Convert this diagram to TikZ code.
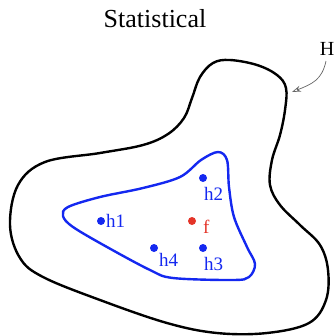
\documentclass[tikz,border=0pt]{standalone}
\usepackage{fontspec}
\setmainfont{Liberation Serif}
\usetikzlibrary{arrows.meta}
\definecolor{myblue}{RGB}{20,40,240}
\definecolor{myred}{RGB}{228,52,40}
\begin{document}
\begin{tikzpicture}[x=1pt,y=-1pt,
  outer/.style={line width=2.4pt,black},
  inner/.style={line width=2.4pt,myblue},
  bdot/.style={circle,fill=myblue,inner sep=0pt,minimum size=8pt},
  rdot/.style={circle,fill=myred,inner sep=0pt,minimum size=8pt},
  lab/.style={font=\fontsize{19}{20}\selectfont,inner sep=0pt,anchor=base west},
]
\useasboundingbox (0,0) rectangle (336,335);
\node[font=\fontsize{26}{28}\selectfont,inner sep=0pt] (title) at (155,19) {Statistical};
\draw[outer] plot[smooth cycle,tension=0.6] coordinates {
 (213,63) (230,60) (257,65) (277,75) (286,88) (285,110) (280,135) (272,160)
 (270,185) (280,205) (300,225) (320,245) (328,270) (326,300) (309,323)
 (267,333) (217,333) (167,323) (100,300) (43,277) (20,258) (10,225) (18,185)
 (45,162) (100,153) (143,145) (168,134) (184,118) (192,98) (200,77)};
\draw[inner] plot[smooth cycle,tension=0.55] coordinates {
 (218,152) (227,160) (229,187) (234,217) (247,247) (255,264) (249,277)
 (233,280) (173,278) (150,270) (107,247) (73,227) (63,216) (68,207)
 (100,197) (143,188) (180,177) (201,160)};
\node[bdot] (h1) at (101,221) {};
\node[bdot] (h2) at (203,178) {};
\node[bdot] (h3) at (203,248) {};
\node[bdot] (h4) at (154,248) {};
\node[rdot] (f) at (192,221) {};
\node[lab,text=myblue] (l1) at (106,227) {h1};
\node[lab,text=myblue] (l2) at (204,200) {h2};
\node[lab,text=myblue] (l3) at (204,270) {h3};
\node[lab,text=myblue] (l4) at (159,266) {h4};
\node[lab,text=myred] (lf) at (203,233) {f};
\node[font=\fontsize{20}{22}\selectfont,inner sep=0pt] (H) at (327,49) {H};
\coordinate (tip) at (292,92);
\draw[gray!80!black,line width=0.7pt,-{Stealth[open,length=9pt,width=6pt]}]
  (326,61) .. controls (322,80) and (312,84) .. (tip);
\end{tikzpicture}
\end{document}
